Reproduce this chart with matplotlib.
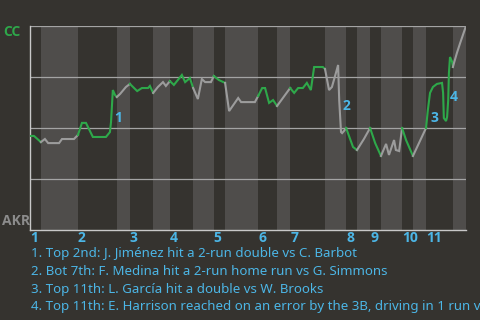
import matplotlib
matplotlib.use("Agg")
import matplotlib.pyplot as plt
import matplotlib.transforms as mtransforms

# ---- data ----
# play index (x) and CC win probability (y) at each plotted event
play = [0, 1.1, 3.0, 4.1, 5.0, 8.0, 8.8, 12.1, 13.2, 14.3, 15.4, 17.3, 20.9, 22.0, 22.3, 22.8,
        23.4, 23.9, 24.8, 26.4, 27.5, 29.5, 30.8, 32.5, 33.0, 33.9, 35.2, 36.6, 37.4, 38.5,
        39.6, 41.8, 42.7, 44.0, 44.9, 46.2, 47.3, 48.2, 49.8, 50.6, 52.0, 53.7, 54.8, 57.3,
        58.1, 61.9, 62.8, 63.9, 64.7, 65.8, 66.9, 68.0, 71.6, 72.7, 73.8, 75.1, 76.2, 77.3,
        78.2, 80.6, 81.2, 82.3, 83.1, 84.2, 84.8, 85.1, 85.6, 85.9, 86.4, 87.0, 88.9, 90.0,
        91.9, 93.6, 95.0, 96.6, 98.0, 98.8, 100.2, 100.7, 101.6, 102.4, 103.5, 105.4, 109.0,
        109.5, 110.1, 110.9, 112.0, 113.4, 113.7, 113.9, 114.5, 114.8, 115.1, 115.3, 115.6,
        116.2, 116.4, 116.7, 117.5, 118.4, 120.0]
win_prob = [0.461, 0.461, 0.431, 0.446, 0.426, 0.426, 0.446, 0.446, 0.466, 0.525, 0.525, 0.456,
            0.456, 0.480, 0.529, 0.686, 0.662, 0.652, 0.667, 0.701, 0.716, 0.681, 0.696, 0.696,
            0.706, 0.672, 0.701, 0.725, 0.706, 0.730, 0.711, 0.760, 0.725, 0.745, 0.696, 0.642,
            0.740, 0.725, 0.725, 0.755, 0.735, 0.721, 0.583, 0.647, 0.627, 0.627, 0.657, 0.696,
            0.696, 0.623, 0.637, 0.608, 0.696, 0.672, 0.696, 0.696, 0.721, 0.686, 0.799, 0.799,
            0.789, 0.686, 0.701, 0.770, 0.809, 0.637, 0.480, 0.475, 0.485, 0.500, 0.407, 0.392,
            0.446, 0.500, 0.426, 0.363, 0.422, 0.368, 0.441, 0.392, 0.387, 0.500, 0.441, 0.363,
            0.500, 0.588, 0.672, 0.701, 0.716, 0.721, 0.672, 0.549, 0.534, 0.554, 0.637, 0.770,
            0.848, 0.824, 0.799, 0.819, 0.868, 0.917, 1.000]

# play index where each half-inning starts (top, bottom, top, ...), last value = end
half_starts = [0, 3.0, 13.2, 23.9, 27.5, 33.9, 38.5, 44.9, 50.6, 53.7, 62.8, 68.0, 71.6,
               81.2, 87.0, 90.0, 93.6, 96.6, 102.4, 105.4, 109.0, 116.4, 120.0]
innings = ["1", "2", "3", "4", "5", "6", "7", "8", "9", "10", "11"]

event_labels = ["1", "2", "3", "4"]
event_play = [23.1, 85.9, 110.1, 115.6]
event_wp = [0.55, 0.61, 0.55, 0.65]
event_text = [
    "1. Top 2nd: J. Jiménez hit a 2-run double vs C. Barbot",
    "2. Bot 7th: F. Medina hit a 2-run home run vs G. Simmons",
    "3. Top 11th: L. García hit a double vs W. Brooks",
    "4. Top 11th: E. Harrison reached on an error by the 3B, driving in 1 run vs W. Brooks",
]
away_team = "CC"
home_team = "AKR"

# ---- style ----
BG = "#35332f"
BAND = "#4f4d4b"
GRID = "#a4a4a4"
GREEN = "#2ea84a"
GRAYLINE = "#9c9c9c"
BLUE = "#4cb6e6"
BOLD_FAM = ['Open Sans', 'Lato', 'DejaVu Sans']

plt.rcParams['font.family'] = ['Noto Sans', 'DejaVu Sans']

fig = plt.figure(figsize=(4.8, 3.2), dpi=100, facecolor=BG)
ax = fig.add_axes([30/480, 1 - 230/320, 436/480, 204/320])
ax.set_facecolor(BG)
ax.set_xlim(half_starts[0], half_starts[-1])
ax.set_ylim(0, 1)

# shaded bottom halves
for i in range(len(half_starts) - 1):
    if i % 2 == 1:
        ax.axvspan(half_starts[i], half_starts[i + 1], color=BAND, lw=0, zorder=0)

for g in [0.25, 0.5, 0.75, 1.0]:
    ax.axhline(g, color=GRID, lw=0.9, zorder=1)

# win probability line coloured by half inning
eps = 1e-6
for i in range(len(half_starts) - 1):
    lo, hi = half_starts[i], half_starts[i + 1]
    xs = [x for x in play if lo - eps <= x <= hi + eps]
    ys = [y for x, y in zip(play, win_prob) if lo - eps <= x <= hi + eps]
    ax.plot(xs, ys, color=GREEN if i % 2 == 0 else GRAYLINE, lw=1.5,
            solid_joinstyle='miter', zorder=3)

for lab, x, y in zip(event_labels, event_play, event_wp):
    ax.text(x, y, lab, color=BLUE, fontsize=10, fontweight='bold', family=BOLD_FAM,
            ha='left', va='center', zorder=4)

for s in ['top', 'right']:
    ax.spines[s].set_visible(False)
for s in ['left', 'bottom']:
    ax.spines[s].set_color("#c8c8c8")
    ax.spines[s].set_linewidth(1.0)
ax.set_xticks([])
ax.set_yticks([])

trans = mtransforms.blended_transform_factory(ax.transData, ax.transAxes)
for k, lab in enumerate(innings):
    ax.text(half_starts[2 * k], -0.04, lab, transform=trans, color=BLUE,
            fontsize=10, fontweight='bold', family=BOLD_FAM,
            ha='left', va='center', clip_on=False)

fig.text(3/480, 1 - 32/320, away_team, color=GREEN, fontsize=10, fontweight='bold',
         family=BOLD_FAM, ha='left', va='center')
fig.text(2/480, 1 - 221/320, home_team, color="#8c8c8c", fontsize=10, fontweight='bold',
         family=BOLD_FAM, ha='left', va='center')

for j, t in enumerate(event_text):
    fig.text(31/480, 1 - (254 + 17.6 * j)/320, t, color=BLUE, fontsize=9.55,
             ha='left', va='center')

fig.savefig("out.png", dpi=100, facecolor=BG)
